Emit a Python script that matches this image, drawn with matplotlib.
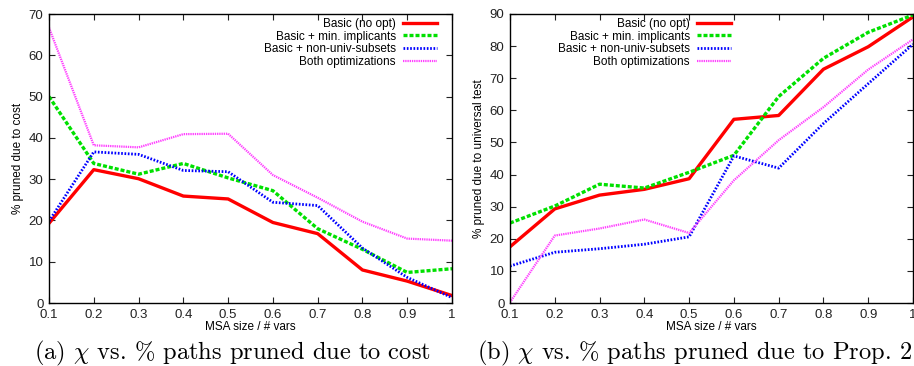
import matplotlib
matplotlib.use("Agg")
import matplotlib.pyplot as plt

plt.rcParams["font.family"] = ["Liberation Sans", "DejaVu Sans"]
plt.rcParams["mathtext.fontset"] = "cm"

msa = [0.1, 0.2, 0.3, 0.4, 0.5, 0.6, 0.7, 0.8, 0.9, 1.0]
labels = ["Basic (no opt)", "Basic + min. implicants",
          "Basic + non-univ-subsets", "Both optimizations"]

# (a) pruned due to cost
cost_basic = [19.3, 32.3, 30.1, 25.9, 25.2, 19.5, 16.8, 8.0, 5.3, 1.8]
cost_minimp = [50.0, 33.8, 31.2, 33.8, 30.3, 27.2, 18.0, 13.0, 7.4, 8.3]
cost_nonuniv = [19.8, 36.6, 36.0, 32.1, 31.8, 24.4, 23.6, 13.3, 6.2, 1.3]
cost_both = [66.7, 38.2, 37.7, 40.9, 41.0, 31.0, 25.5, 19.7, 15.6, 15.1]

# (b) pruned due to universal test
univ_basic = [17.5, 29.3, 33.6, 35.4, 38.7, 57.2, 58.4, 72.8, 79.8, 89.1]
univ_minimp = [24.9, 30.2, 37.0, 35.8, 40.7, 46.0, 64.3, 76.2, 84.3, 89.7]
univ_nonuniv = [11.5, 15.8, 16.9, 18.3, 20.6, 45.8, 42.0, 55.9, 68.3, 80.6]
univ_both = [0.2, 21.0, 23.2, 26.0, 21.8, 38.2, 50.7, 61.0, 72.7, 82.1]

styles = [
    dict(color="#ff0000", lw=2.4, ls="-"),
    dict(color="#00e000", lw=2.4, ls=(0, (1.2, 0.6))),
    dict(color="#0000ff", lw=2.0, ls=(0, (0.6, 0.6))),
    dict(color="#ff40ff", lw=1.6, ls=(0, (0.6, 0.4))),
]

fig = plt.figure(figsize=(9.14, 3.66), dpi=100)
W, H = 914, 366
axA = fig.add_axes([49 / W, 1 - 303 / H, 403 / W, 289 / H])
axB = fig.add_axes([510 / W, 1 - 303 / H, 403 / W, 289 / H])


def setup(ax, series, ymax, ylabel, legx):
    for ys, lab, st in zip(series, labels, styles):
        ax.plot(msa, ys, label=lab, **st)
    ax.set_xlim(0.1, 1.0)
    ax.set_ylim(0, ymax)
    ax.set_xticks(msa)
    ax.set_xticklabels(["0.1", "0.2", "0.3", "0.4", "0.5", "0.6",
                        "0.7", "0.8", "0.9", "1"])
    ax.set_yticks(range(0, ymax + 1, 10))
    ax.tick_params(direction="in", length=4, width=0.8, top=True, right=True,
                   labelsize=9.5, pad=4, colors="#222222")
    for sp in ax.spines.values():
        sp.set_linewidth(1.0)
    ax.set_xlabel("MSA size / # vars", fontsize=8.5, labelpad=0)
    ax.set_ylabel(ylabel, fontsize=8.5, labelpad=3)
    ax.legend(loc="upper right", bbox_to_anchor=(legx, 1 - 4 / 289),
              frameon=False, markerfirst=False, fontsize=8.5,
              handlelength=2.9, handletextpad=0.6, labelspacing=0.05,
              borderpad=0, borderaxespad=0)


setup(axA, [cost_basic, cost_minimp, cost_nonuniv, cost_both], 70,
      "% pruned due to cost", (437 - 49) / 403)
setup(axB, [univ_basic, univ_minimp, univ_nonuniv, univ_both], 90,
      "% pruned due to universal test", (731 - 510) / 403)

cap = dict(ha="center", va="baseline", fontsize=17.6, family="cmr10",
           math_fontfamily="cm")
fig.text(232 / W, 1 - 359 / H, r"(a) $\chi$ vs. % paths pruned due to cost", **cap)
fig.text(695 / W, 1 - 359 / H, r"(b) $\chi$ vs. % paths pruned due to Prop. 2", **cap)

fig.savefig("out.png", dpi=100)
